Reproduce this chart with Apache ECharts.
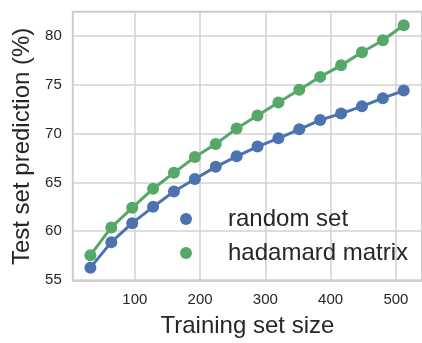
<!DOCTYPE html>
<html>
<head>
<meta charset="utf-8">
<script src="https://cdn.jsdelivr.net/npm/echarts@6/dist/echarts.min.js"></script>
<style>html,body{margin:0;padding:0;background:#fff;}#c{width:422px;height:343px;}</style>
</head>
<body>
<div id="c"></div>
<script>
const trainingSizes = [32, 64, 96, 128, 160, 192, 224, 256, 288, 320, 352, 384, 416, 448, 480, 512];
const randomSet = [56.27, 58.88, 60.83, 62.5, 64.08, 65.35, 66.6, 67.68, 68.68, 69.52, 70.45, 71.4, 72.06, 72.8, 73.64, 74.42];
const hadamardMatrix = [57.55, 60.39, 62.4, 64.36, 66.0, 67.6, 68.94, 70.52, 71.86, 73.2, 74.5, 75.82, 77.0, 78.34, 79.58, 81.12];
const xTicks = [100, 200, 300, 400, 500];
const yTicks = [55, 60, 65, 70, 75, 80];
const seriesNames = ['random set', 'hadamard matrix'];
const colors = ['#4c72b0', '#55a868'];

const font = "'Liberation Sans', Arial, sans-serif";
const textColor = '#262626';
const chart = echarts.init(document.getElementById('c'), null, {renderer: 'canvas'});
const mk = (name, vals, color) => ({
  name: name,
  type: 'line',
  data: trainingSizes.map((x, i) => [x, vals[i]]),
  symbol: 'circle',
  symbolSize: 12,
  showAllSymbol: true,
  lineStyle: {color: color, width: 3},
  itemStyle: {color: color},
  emphasis: {disabled: true},
  animation: false
});
chart.setOption({
  animation: false,
  backgroundColor: '#fff',
  grid: {left: 72.8, top: 11.7, right: -5, bottom: 57, show: true, borderColor: '#cccccc', borderWidth: 2, backgroundColor: 'transparent'},
  legend: {
    data: seriesNames.map(n => ({name: n, icon: 'circle'})),
    orient: 'vertical',
    left: 180, top: 207,
    itemWidth: 74, itemHeight: 12, itemGap: 10,
    padding: 0,
    symbolKeepAspect: true,
    textStyle: {fontFamily: font, fontSize: 24, color: textColor}
  },
  xAxis: {
    type: 'value', min: 5, max: 540,
    name: 'Training set size', nameLocation: 'middle', nameGap: 33,
    nameTextStyle: {fontFamily: font, fontSize: 24, color: textColor},
    axisLine: {show: false}, axisTick: {show: false, customValues: xTicks},
    axisLabel: {customValues: xTicks, fontFamily: font, fontSize: 15, color: textColor, margin: 11},
    splitLine: {show: true, lineStyle: {color: '#d2d2d2', width: 1.5}}
  },
  yAxis: {
    type: 'value', min: 54.9, max: 82.5,
    name: 'Test set prediction (%)', nameLocation: 'middle', nameGap: 38,
    nameTextStyle: {fontFamily: font, fontSize: 24, color: textColor},
    axisLine: {show: false}, axisTick: {show: false, customValues: yTicks},
    axisLabel: {customValues: yTicks, fontFamily: font, fontSize: 15, color: textColor, margin: 11},
    splitLine: {show: true, lineStyle: {color: '#d2d2d2', width: 1.5}}
  },
  series: [mk(seriesNames[0], randomSet, colors[0]), mk(seriesNames[1], hadamardMatrix, colors[1])]
});
</script>
</body>
</html>
